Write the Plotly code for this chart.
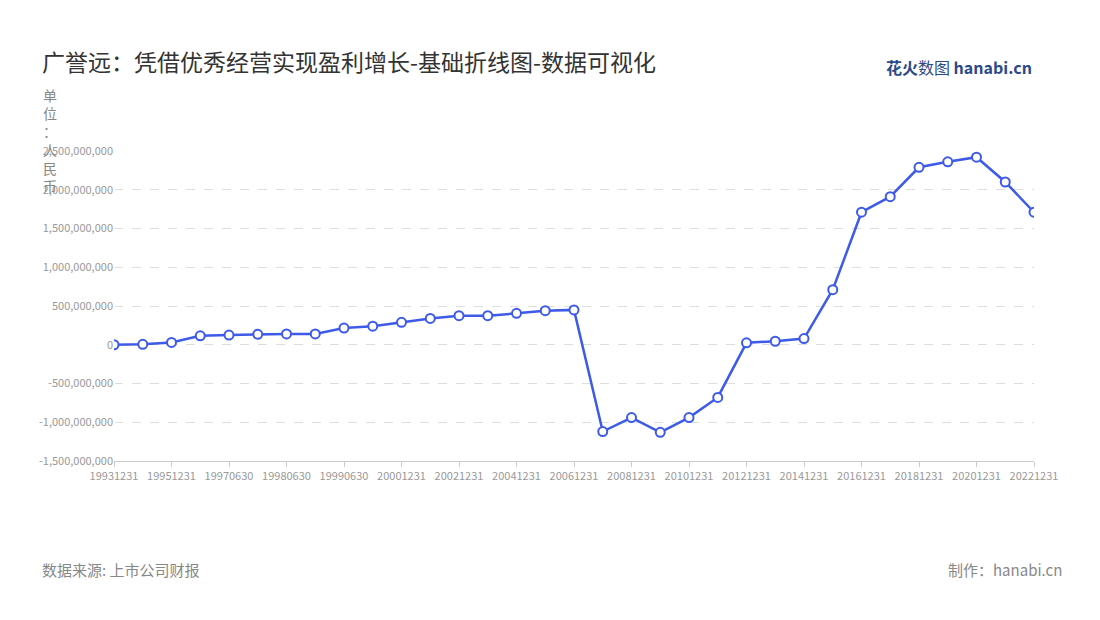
import plotly.graph_objects as go

dates = ["19931231","19941231","19951231","19961231","19970630","19971231","19980630","19981231",
         "19990630","19991231","20001231","20011231","20021231","20031231","20041231","20051231",
         "20061231","20071231","20081231","20091231","20101231","20111231","20121231","20131231",
         "20141231","20151231","20161231","20171231","20181231","20191231","20201231","20211231","20221231"]
profit = [0, 5e6, 30e6, 115e6, 125e6, 135e6, 140e6, 140e6, 215e6, 240e6, 290e6, 340e6, 375e6, 375e6,
          405e6, 440e6, 450e6, -1120e6, -940e6, -1130e6, -940e6, -680e6, 25e6, 45e6, 80e6, 710e6,
          1710e6, 1910e6, 2290e6, 2360e6, 2420e6, 2100e6, 1710e6]
yticks = [-1.5e9, -1e9, -5e8, 0, 5e8, 1e9, 1.5e9, 2e9, 2.5e9]

font = "Noto Sans CJK SC, Noto Sans, sans-serif"
fig = go.Figure(go.Scatter(
    x=list(range(len(dates))), y=profit, mode="lines+markers",
    line=dict(color="#3d5ae8", width=2.5),
    marker=dict(size=9, color="white", line=dict(color="#3d5ae8", width=2)),
))
fig.update_layout(
    width=1100, height=620, paper_bgcolor="white", plot_bgcolor="white",
    margin=dict(l=106, r=74, t=143, b=167), showlegend=False,
    font=dict(family=font, color="#888", size=12),
    title=dict(text="广誉远：凭借优秀经营实现盈利增长-基础折线图-数据可视化", x=0.031, y=0.925,
               xanchor="left", font=dict(size=23, color="#333")),
)
fig.update_xaxes(tickmode="array", tickvals=list(range(0, len(dates), 2)),
                 ticktext=dates[::2], range=[0, len(dates)-1], showgrid=False,
                 showline=True, linecolor="#ccc", ticks="outside", tickcolor="#ccc",
                 tickfont=dict(size=11, color="#999"))
fig.update_yaxes(tickmode="array", tickvals=yticks, ticktext=[f"{v:,.0f}" for v in yticks],
                 range=[-1.5e9, 2.5e9], showgrid=True, gridcolor="#ddd", griddash="dash",
                 zeroline=False, tickfont=dict(size=11, color="#999"))
fig.add_annotation(text="单<br>位<br>：<br>人<br>民<br>币", xref="paper", yref="paper",
                   x=-0.07, y=1.22, xanchor="center", yanchor="top", showarrow=False,
                   font=dict(size=14, color="#888"), align="center")
fig.add_annotation(text="数据来源: 上市公司财报", xref="paper", yref="paper", x=-0.08, y=-0.31,
                   xanchor="left", yanchor="top", showarrow=False, font=dict(size=15, color="#888"))
fig.add_annotation(text="制作：hanabi.cn", xref="paper", yref="paper", x=1.033, y=-0.31,
                   xanchor="right", yanchor="top", showarrow=False, font=dict(size=15, color="#888"))
fig.add_annotation(text="<b>花火</b>数图 <b>hanabi.cn</b>", xref="paper", yref="paper", x=1.0, y=1.27,
                   xanchor="right", yanchor="middle", showarrow=False, font=dict(size=16, color="#2a4a8a"))
fig.write_html("out.html")
